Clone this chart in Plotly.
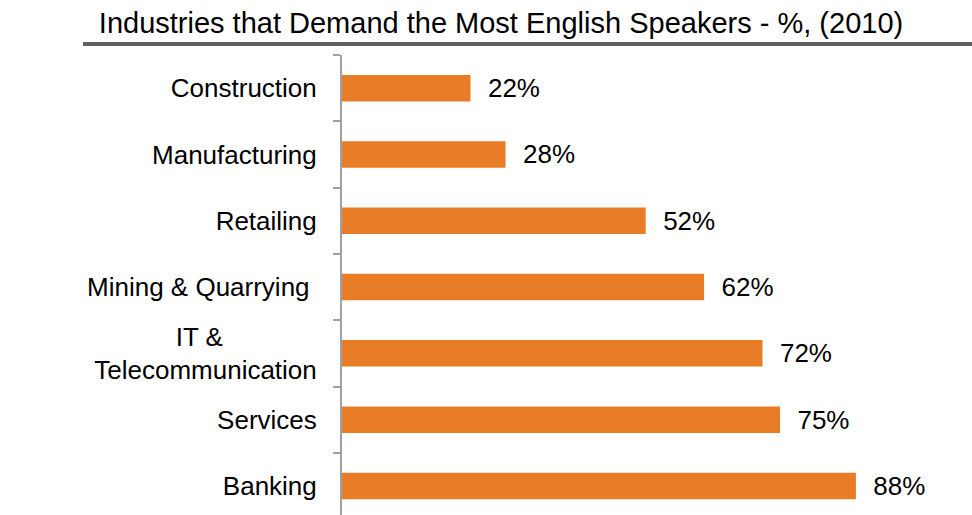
import plotly.graph_objects as go

NB = "\u00a0"
categories = ["Construction", "Manufacturing", "Retailing", "Mining & Quarrying" + NB,
              "IT &" + NB * 13 + "<br>Telecommunication",
              "Services", "Banking"]
values = [22, 28, 52, 62, 72, 75, 88]
labels = [NB * 2 + "%d%%" % v for v in values]

W, H = 972, 515
L, T, R, B = 342, 55, 46, 0
plot_w = W - L - R
plot_h = H - T - B
spacing = 66.3
FONT = "Liberation Sans, Arial, sans-serif"

fig = go.Figure(go.Bar(
    x=values, y=categories, orientation="h",
    marker=dict(color="#E97D27", line=dict(width=0)),
    text=labels, textposition="outside", cliponaxis=False,
    constraintext="none",
    textfont=dict(size=26, color="#000000", family=FONT),
    hoverinfo="skip",
))

fig.update_layout(
    width=W, height=H,
    margin=dict(l=L, r=R, t=T, b=B, pad=0),
    paper_bgcolor="white", plot_bgcolor="white",
    bargap=0.6,
    showlegend=False,
    font=dict(family=FONT, color="#000000"),
    title=dict(text="Industries that Demand the Most English Speakers - %, (2010)",
               x=501 / W, xanchor="center", xref="container",
               y=1 - 23 / H, yanchor="middle", yref="container",
               font=dict(size=29, color="#000000")),
    xaxis=dict(range=[0, 100], visible=False, fixedrange=True),
    yaxis=dict(type="category", range=[-0.5 + plot_h / spacing, -0.5],
               showline=True, linecolor="#A0A0A0", linewidth=2,
               ticks="outside", ticklen=7, tickcolor="#A0A0A0", tickwidth=2,
               tickson="boundaries", showgrid=False, zeroline=False,
               tickfont=dict(size=26, color="#000000"),
               ticklabelstandoff=18, fixedrange=True),
    shapes=[dict(type="line", xref="paper", yref="paper",
                 x0=(83 - L) / plot_w, x1=(W - L) / plot_w,
                 y0=(H - 44) / plot_h, y1=(H - 44) / plot_h,
                 line=dict(color="#5D6164", width=4))],
)

fig.write_html("out.html", config={"displayModeBar": False},
               post_script="document.body.style.margin='0';document.body.style.overflow='hidden';")
